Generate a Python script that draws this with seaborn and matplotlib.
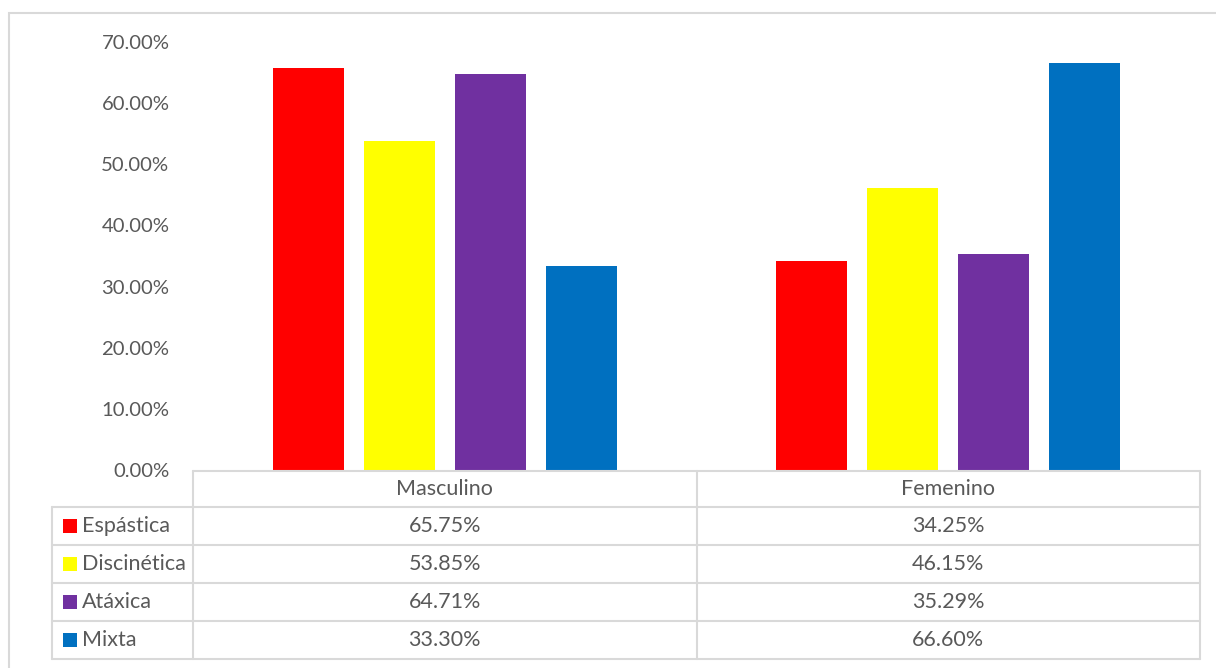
import numpy as np
import pandas as pd
import matplotlib
matplotlib.use("Agg")
import matplotlib.pyplot as plt
import matplotlib.transforms as mtransforms
from matplotlib.patches import Rectangle
from matplotlib.lines import Line2D
from matplotlib.ticker import PercentFormatter
import seaborn as sns

# ---- data ----
sexos = ["Masculino", "Femenino"]
tipos = ["Espástica", "Discinética", "Atáxica", "Mixta"]
espastica = [0.6575, 0.3425]
discinetica = [0.5385, 0.4615]
ataxica = [0.6471, 0.3529]
mixta = [0.3330, 0.6660]
colores = ["#FF0000", "#FFFF00", "#7030A0", "#0070C0"]
series = [espastica, discinetica, ataxica, mixta]

rows = []
for t, vals in zip(tipos, series):
    for s, v in zip(sexos, vals):
        rows.append({"sexo": s, "tipo": t, "valor": v})
df = pd.DataFrame(rows)

sns.set_theme(style="white")
plt.rcParams["font.family"] = ["Lato", "DejaVu Sans"]
TXT = "#595959"
GRID = "#D9D9D9"
FS = 15.5

W, H = 1216, 668
fig = plt.figure(figsize=(W / 100, H / 100), dpi=100)

def fx(px):
    return px / W

def fy(py):
    return 1 - py / H

ax_l, ax_r, ax_t, ax_b = 193, 1200, 42, 470
ax = fig.add_axes([fx(ax_l), fy(ax_b), fx(ax_r - ax_l), (ax_b - ax_t) / H])

sns.barplot(data=df, x="sexo", y="valor", hue="tipo", order=sexos,
            hue_order=tipos, palette=colores, saturation=1, width=0.723,
            gap=0.22, linewidth=0, legend=False, ax=ax)

ax.set_xlim(-0.5, 1.5)
ax.set_ylim(0, 0.7)
ax.set_yticks(np.arange(0, 0.71, 0.1))
ax.yaxis.set_major_formatter(PercentFormatter(xmax=1, decimals=2))
ax.tick_params(axis="y", length=0, pad=17, labelsize=14.6, labelcolor=TXT)
ax.set_xticks([])
ax.set_xlabel("")
ax.set_ylabel("")
for sp in ax.spines.values():
    sp.set_visible(False)

# ---- outer chart frame ----
fig.add_artist(Rectangle((fx(9), fy(H + 20)), fx(W + 20), (H + 20 - 13) / H,
                         transform=fig.transFigure, fill=False,
                         edgecolor=GRID, linewidth=1.5))

# ---- data table below ----
btr = mtransforms.blended_transform_factory(ax.transData, fig.transFigure)
row_edges = [471, 507, 545, 583, 621, 659]
lab_l = 52
xl, xm, xr = -0.5, 0.5, 1.5

def hline(y, x0_fig, x1_data):
    x0d = ax.transData.inverted().transform(fig.transFigure.transform((fx(x0_fig), 0)))[0]
    fig.add_artist(Line2D([x0d, x1_data], [fy(y), fy(y)], transform=btr,
                          color=GRID, linewidth=1.5))

hline(row_edges[0], ax_l, xr)
for y in row_edges[1:]:
    hline(y, lab_l, xr)

for xd in [xl, xm, xr]:
    fig.add_artist(Line2D([xd, xd], [fy(row_edges[0]), fy(row_edges[-1])],
                          transform=btr, color=GRID, linewidth=1.5))
fig.add_artist(Line2D([fx(lab_l), fx(lab_l)], [fy(row_edges[1]), fy(row_edges[-1])],
                      transform=fig.transFigure, color=GRID, linewidth=1.5))

# header
yc = fy((row_edges[0] + row_edges[1]) / 2)
for i, s in enumerate(sexos):
    fig.text(i, yc, s, transform=btr, fontsize=FS, color=TXT,
             ha="center", va="center")

# rows
for r, (t, vals, c) in enumerate(zip(tipos, series, colores)):
    yc = fy((row_edges[r + 1] + row_edges[r + 2]) / 2)
    fig.add_artist(Rectangle((fx(63), yc - 7 / H), fx(14), 14 / H,
                             transform=fig.transFigure, facecolor=c,
                             edgecolor="none"))
    fig.text(fx(82), yc, t, fontsize=FS, color=TXT, ha="left", va="center")
    for i, v in enumerate(vals):
        fig.text(i, yc, f"{v * 100:.2f}%", transform=btr, fontsize=FS,
                 color=TXT, ha="center", va="center")

fig.savefig("out.png", dpi=100, facecolor="white")
